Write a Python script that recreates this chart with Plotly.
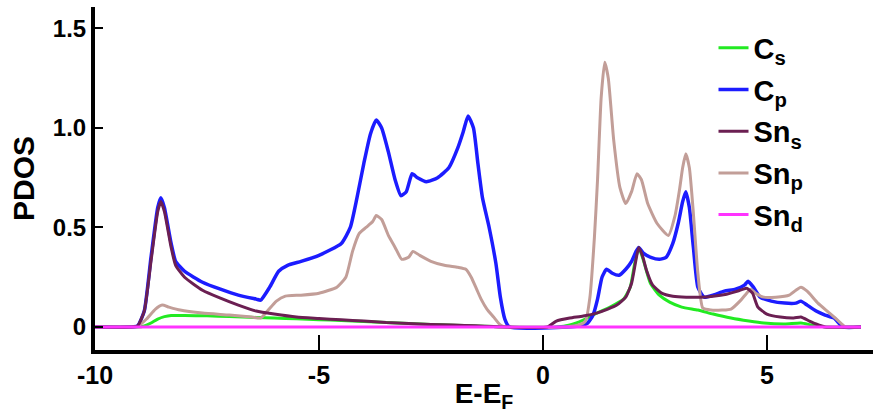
import plotly.graph_objects as go

# ---------------- data ----------------
cs_x = [-10, -9.2, -9.05, -8.9, -8.75, -8.6, -8.45, -8.3, -8.0, -7.5, -7.0, -6.4, -6.0, -5.5, -5.0, -4.5, -4.0,
        -3.5, -3.0, -2.5, -2.0, -1.5, -1.1, -0.8,
        0.3, 0.6, 0.9, 1.2, 1.5, 1.8, 1.95, 2.05, 2.14, 2.25, 2.4, 2.6, 2.83, 3.1, 3.46, 3.8, 4.2, 4.6,
        4.93, 5.4, 5.76, 6.0, 6.3, 7.1]
cs_y = [0, 0, 0, 0.005, 0.02, 0.04, 0.052, 0.058, 0.058, 0.056, 0.053, 0.048, 0.045, 0.041, 0.037, 0.033, 0.028,
        0.023, 0.018, 0.013, 0.009, 0.005, 0.002, 0,
        0, 0.01, 0.035, 0.07, 0.1, 0.14, 0.2, 0.32, 0.40, 0.33, 0.22, 0.16, 0.125, 0.1, 0.085, 0.065, 0.045,
        0.03, 0.02, 0.015, 0.02, 0.01, 0, 0]

cp_x = [-10, -9.2, -9.05, -8.9, -8.75, -8.6, -8.53, -8.45, -8.3, -8.2, -8.0, -7.6, -7.2, -6.8, -6.4, -6.3, -6.1,
        -5.9, -5.7, -5.4, -5.0, -4.5, -4.3, -4.15, -4.0, -3.85, -3.72, -3.6, -3.45, -3.3, -3.17, -3.05,
        -2.92, -2.8, -2.6, -2.35, -2.1, -1.9, -1.78, -1.67, -1.55, -1.45, -1.35, -1.2, -1.05, -0.95,
        -0.85, -0.75,
        0.8, 1.0, 1.12, 1.22, 1.32, 1.42, 1.55, 1.7, 1.85, 1.98, 2.08, 2.14, 2.25, 2.41, 2.6, 2.75, 2.9,
        3.02, 3.12, 3.19, 3.27, 3.36, 3.46, 3.6, 3.8, 4.05, 4.3, 4.5, 4.58, 4.7, 4.85, 5.1, 5.4, 5.65,
        5.76, 5.9, 6.1, 6.3, 6.5, 6.7, 7.1]
cp_y = [0, 0, 0.005, 0.08, 0.35, 0.6, 0.65, 0.6, 0.42, 0.33, 0.28, 0.225, 0.19, 0.16, 0.14, 0.135, 0.2,
        0.28, 0.31, 0.33, 0.36, 0.42, 0.5, 0.65, 0.82, 0.97, 1.04, 1.0, 0.88, 0.74, 0.66, 0.68,
        0.77, 0.75, 0.73, 0.75, 0.8, 0.9, 0.98, 1.06, 1.0, 0.82, 0.65, 0.5, 0.32, 0.15,
        0.04, 0,
        0.005, 0.02, 0.06, 0.14, 0.25, 0.29, 0.27, 0.26, 0.29, 0.33, 0.38, 0.40, 0.37, 0.35, 0.34, 0.35, 0.42,
        0.52, 0.63, 0.68, 0.6, 0.4, 0.2, 0.15, 0.16, 0.18, 0.19, 0.21, 0.23, 0.2, 0.15, 0.13, 0.12, 0.12,
        0.13, 0.11, 0.08, 0.06, 0.045, 0, 0]

sns_x = [-10, -9.2, -9.05, -8.9, -8.75, -8.6, -8.53, -8.45, -8.3, -8.2, -8.0, -7.6, -7.2, -6.8, -6.4, -6.0,
         -5.5, -5.0, -4.5, -4.0, -3.5, -3.0, -2.5, -2.0, -1.5, -1.1, -0.8,
         0.1, 0.3, 0.6, 0.9, 1.2, 1.45, 1.65, 1.85, 1.98, 2.08, 2.14, 2.22, 2.32, 2.45, 2.65, 2.9, 3.2,
         3.5, 3.8, 4.1, 4.35, 4.55, 4.68, 4.8, 5.0, 5.3, 5.6, 5.76, 5.95, 6.1, 6.3, 7.1]
sns_y = [0, 0, 0.005, 0.08, 0.33, 0.58, 0.63, 0.58, 0.40, 0.31, 0.25, 0.185, 0.145, 0.11, 0.08, 0.065,
         0.05, 0.043, 0.036, 0.03, 0.022, 0.018, 0.013, 0.01, 0.006, 0.002, 0,
         0, 0.03, 0.045, 0.055, 0.07, 0.09, 0.11, 0.15, 0.22, 0.34, 0.40, 0.36, 0.28, 0.21, 0.17, 0.155,
         0.15, 0.15, 0.155, 0.165, 0.18, 0.195, 0.17, 0.1, 0.065, 0.05, 0.045, 0.05, 0.03, 0.015, 0, 0]

snp_x = [-10, -9.2, -9.05, -8.85, -8.65, -8.5, -8.35, -8.1, -7.6, -7.0, -6.5, -6.3, -6.15, -5.95, -5.75, -5.4,
         -5.0, -4.6, -4.4, -4.25, -4.1, -3.95, -3.8, -3.72, -3.6, -3.45, -3.3, -3.15, -3.0, -2.9, -2.75,
         -2.5, -2.2, -1.9, -1.72, -1.6, -1.48, -1.38, -1.25, -1.1, -0.95, -0.85,
         0.5, 0.8, 0.95, 1.05, 1.15, 1.22, 1.3, 1.38, 1.46, 1.58, 1.72, 1.85, 1.98, 2.1, 2.2, 2.34, 2.55,
         2.8, 2.95, 3.05, 3.12, 3.19, 3.27, 3.35, 3.46, 3.57, 3.75, 4.0, 4.2, 4.42, 4.55, 4.64, 4.75, 4.93,
         5.2, 5.5, 5.68, 5.76, 5.9, 6.14, 6.4, 6.65, 6.75, 7.1]
snp_y = [0, 0, 0.003, 0.04, 0.09, 0.11, 0.1, 0.085, 0.07, 0.06, 0.05, 0.045, 0.08, 0.13, 0.155, 0.16,
         0.17, 0.2, 0.25, 0.38, 0.47, 0.5, 0.53, 0.56, 0.54, 0.46, 0.4, 0.34, 0.35, 0.38, 0.36,
         0.33, 0.31, 0.3, 0.29, 0.25, 0.19, 0.14, 0.09, 0.05, 0.01, 0,
         0, 0.01, 0.03, 0.15, 0.45, 0.74, 1.15, 1.33, 1.25, 0.94, 0.7, 0.62, 0.68, 0.77, 0.74, 0.62, 0.52,
         0.46, 0.56, 0.69, 0.8, 0.87, 0.8, 0.6, 0.27, 0.095, 0.085, 0.085, 0.09, 0.135, 0.17, 0.19, 0.17,
         0.15, 0.15, 0.16, 0.19, 0.2, 0.18, 0.12, 0.07, 0.02, 0, 0]

snd_x = [-10, 7.1]
snd_y = [0, 0]

x_ticks = [-10, -5, 0, 5]
x_ticktext = ["-10", "-5", "0", "5"]
y_ticks = [0, 0.5, 1.0, 1.5]
y_ticktext = ["0", "0.5", "1.0", "1.5"]

# ---------------- figure ----------------
FONT = "Arial, Liberation Sans, sans-serif"

series = [
    # (x, y, name, color, width, legendrank)
    (cs_x, cs_y, "C<sub>s</sub>", "#22ea22", 3, 1),
    (cp_x, cp_y, "C<sub>p</sub>", "#1c1cff", 3.5, 2),
    (snp_x, snp_y, "Sn<sub>p</sub>", "#c29e98", 3, 4),
    (sns_x, sns_y, "Sn<sub>s</sub>", "#6b1f52", 3, 3),
    (snd_x, snd_y, "Sn<sub>d</sub>", "#ff33ff", 3, 5),
]

fig = go.Figure()
for x, y, name, color, w, rank in series:
    fig.add_trace(go.Scatter(
        x=x, y=y, name=name, mode="lines",
        line=dict(color=color, width=w, shape="spline", smoothing=0.5),
        legendrank=rank, legendgroup=name,
    ))

fig.update_layout(
    width=873, height=413,
    margin=dict(l=95, r=0, t=7, b=63),
    paper_bgcolor="white", plot_bgcolor="white",
    font=dict(family=FONT, color="black", size=24, weight="bold"),
    showlegend=True,
    legend=dict(
        x=0.795, y=0.955, xanchor="left", yanchor="top",
        bgcolor="rgba(0,0,0,0)",
        font=dict(family=FONT, size=29, color="black", weight="bold"),
        tracegroupgap=1,
    ),
    xaxis=dict(
        range=[-10, 7.37], showgrid=False, zeroline=False,
        showline=True, linecolor="black", linewidth=4,
        tickmode="array", tickvals=x_ticks, ticktext=x_ticktext,
        ticks="inside", ticklen=15, tickwidth=2, tickcolor="black",
        tickfont=dict(family=FONT, size=25, weight="bold"),
        title=dict(text="E-E<sub>F</sub>", font=dict(family=FONT, size=28, weight="bold"), standoff=0),
    ),
    yaxis=dict(
        range=[-0.1156, 1.608], showgrid=False, zeroline=False,
        showline=True, linecolor="black", linewidth=4,
        tickmode="array", tickvals=y_ticks, ticktext=y_ticktext,
        ticks="inside", ticklen=8, tickwidth=2, tickcolor="black",
        tickfont=dict(family=FONT, size=24, weight="bold"),
        title=dict(text="PDOS", font=dict(family=FONT, size=30, weight="bold"), standoff=10),
    ),
)

fig.write_html("out.html")
